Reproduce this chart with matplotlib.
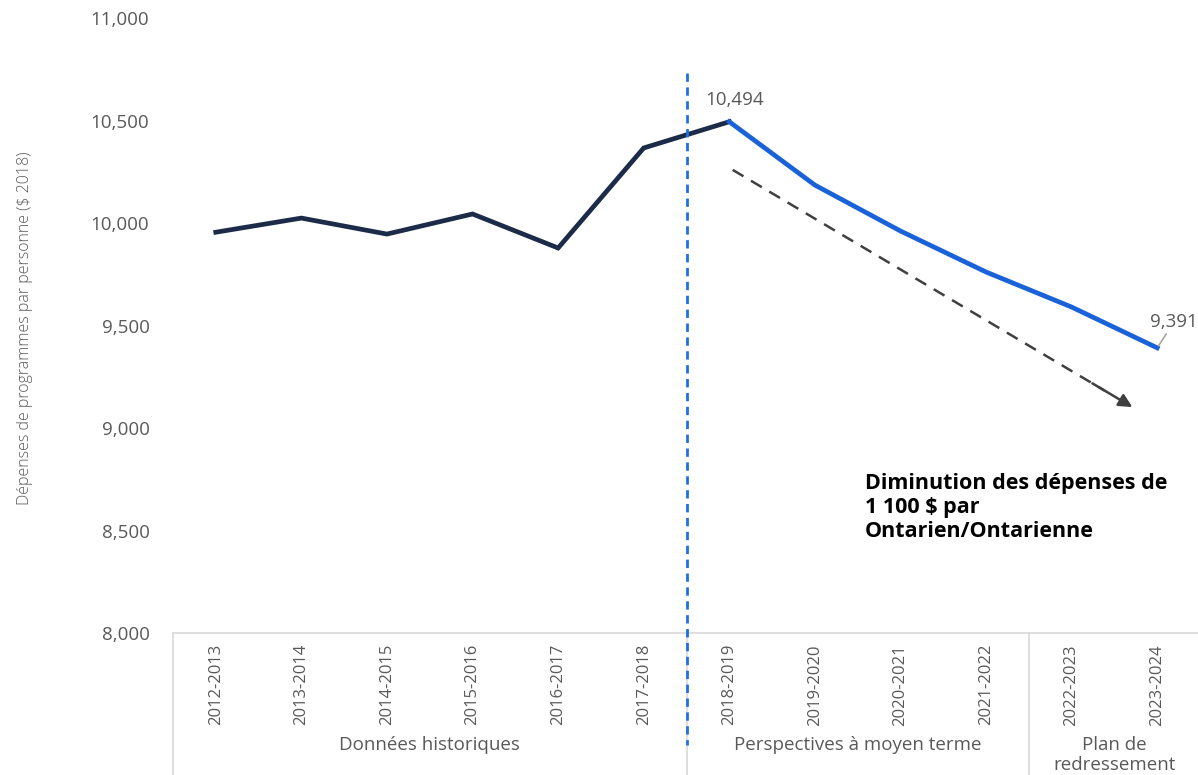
import matplotlib
matplotlib.use("Agg")
import matplotlib.pyplot as plt
import numpy as np

categories = ["2012-2013", "2013-2014", "2014-2015", "2015-2016", "2016-2017", "2017-2018",
              "2018-2019", "2019-2020", "2020-2021", "2021-2022", "2022-2023", "2023-2024"]
historical = [9955, 10024, 9946, 10044, 9878, 10366, 10494]
projected = [10494, 10185, 9961, 9761, 9590, 9391]
groups = ["Données historiques", "Perspectives à moyen terme", "Plan de\nredressement"]
group_bounds = [(-0.5, 5.5), (5.5, 9.5), (9.5, 11.5)]
yticks = [8000, 8500, 9000, 9500, 10000, 10500, 11000]
callout = "Diminution des dépenses de\n1 100 $ par\nOntarien/Ontarienne"
ylabel = "Dépenses de programmes par personne ($ 2018)"

plt.rcParams['font.family'] = ['Open Sans', 'DejaVu Sans']
GRAY = "#595959"
NAVY = "#1c2b48"
BLUE = "#1a62d8"

W, H = 1198, 775
fig = plt.figure(figsize=(W / 100, H / 100), dpi=100)
ax = fig.add_axes([173 / W, (H - 633) / H, 1027 / W, 615 / H])

x = np.arange(len(categories))
ax.plot(x[:len(historical)], historical, color=NAVY, lw=3.4, solid_joinstyle='miter', zorder=3)
ax.plot(x[len(historical) - 1:], projected, color=BLUE, lw=3.4, solid_joinstyle='miter', zorder=3)

ax.set_xlim(-0.5, 11.5)
ax.set_ylim(8000, 11000)
ax.set_yticks(yticks)
ax.set_yticklabels([f"{v:,}" for v in yticks], color=GRAY, fontsize=13.5)
ax.set_xticks(x)
ax.set_xticklabels(categories, rotation=90, color=GRAY, fontsize=12, va='top')
ax.tick_params(axis='y', length=0, pad=17)
ax.tick_params(axis='x', length=0, pad=8)
for s in ax.spines.values():
    s.set_visible(False)

# category box lines
tr = ax.get_xaxis_transform()
bottom = (633 - H) / 615
ax.plot([-0.5, 11.5], [0, 0], transform=tr, color="#d9d9d9", lw=1.2, clip_on=False)
for xb in [-0.5, 9.5]:
    ax.plot([xb, xb], [0, bottom], transform=tr, color="#d9d9d9", lw=1.2, clip_on=False)
ax.plot([5.5, 5.5], [0, bottom], transform=tr, color="#d9d9d9", lw=1.2, clip_on=False)

for g, (a, b) in zip(groups, group_bounds):
    ax.text((a + b) / 2, -0.168, g, transform=tr, ha='center', va='top', color=GRAY,
            fontsize=13.5, linespacing=1.15)

# vertical dashed separator
ax.plot([5.5, 5.5], [(633 - 73) / 615, (633 - 745) / 615], transform=tr, color="#1f6fe5",
        lw=2, dashes=(3, 2), clip_on=False, zorder=4)

# value labels
ax.annotate(f"{historical[-1]:,}", (6, historical[-1]), xytext=(4, 9), textcoords='offset points',
            ha='center', va='bottom', color=GRAY, fontsize=13.5)
ax.annotate(f"{projected[-1]:,}", (11, projected[-1]), xytext=(12, 12), textcoords='offset points',
            ha='center', va='bottom', color=GRAY, fontsize=13.5,
            arrowprops=dict(arrowstyle='-', color="#a6a6a6", lw=1.2, shrinkA=0, shrinkB=2))

# trend arrow
x0, y0, x1, y1 = 6.04, 10259, 10.71, 9102
ax.plot([x0, x0 + (x1 - x0) * 0.93], [y0, y0 + (y1 - y0) * 0.93], color="#404040", lw=1.8,
        dashes=(5, 3.5), zorder=2)
ax.annotate("", xy=(x1, y1), xytext=(x0 + (x1 - x0) * 0.9, y0 + (y1 - y0) * 0.9),
            arrowprops=dict(arrowstyle='-|>,head_length=0.8,head_width=0.4', color="#404040",
                            lw=1.8, shrinkA=0, shrinkB=0))

ax.text(865 / W, (H - 473) / H, callout, transform=fig.transFigure, ha='left', va='top',
        fontsize=15.5, fontweight='bold', color='black', linespacing=1.2)

fig.text(25 / W, (H - 328) / H, ylabel, rotation=90, ha='center', va='center', color=GRAY,
         fontsize=11.5, fontweight='light')

fig.savefig("out.png", dpi=100)
